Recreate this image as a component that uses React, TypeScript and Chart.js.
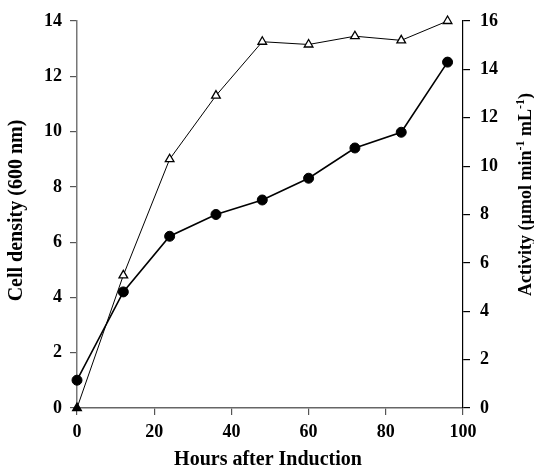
import React, { useEffect, useRef } from "react";
import { Chart, registerables } from "chart.js";

Chart.register(...registerables);

const hours = [0, 12, 24, 36, 48, 60, 72, 84, 96];
const cellDensity = [0, 4.8, 9.0, 11.3, 13.25, 13.15, 13.45, 13.3, 14.0];
const activity = [1.15, 4.8, 7.1, 8.0, 8.6, 9.5, 10.75, 11.4, 14.3];

const xTitle = "Hours after Induction";
const yLeftTitle = "Cell density (600 nm)";
const yRightParts: [string, boolean][] = [
  ["Activity (\u00b5mol min", false],
  ["-1", true],
  [" mL", false],
  ["-1", true],
  [")", false],
];
const FONT = "'Liberation Serif', 'Times New Roman', serif";

const titlesPlugin = {
  id: "titles",
  afterDraw(chart: any) {
    const { ctx, chartArea } = chart;
    const big = `bold 18px ${FONT}`;
    const small = `bold 12px ${FONT}`;
    const mid = (chartArea.top + chartArea.bottom) / 2;
    ctx.save();
    ctx.fillStyle = "#000";
    ctx.textBaseline = "middle";

    // x title
    ctx.font = `bold 20px ${FONT}`;
    ctx.textAlign = "center";
    ctx.fillText(xTitle, (chartArea.left + chartArea.right) / 2 - 2, 460);

    // left title
    ctx.save();
    ctx.translate(17, mid - 4);
    ctx.rotate(-Math.PI / 2);
    ctx.fillText(yLeftTitle, 0, 0);
    ctx.restore();

    // right title
    let total = 0;
    for (const [t, sup] of yRightParts) {
      ctx.font = sup ? small : big;
      total += ctx.measureText(t).width;
    }
    ctx.save();
    ctx.translate(526, mid - 20);
    ctx.rotate(-Math.PI / 2);
    ctx.textAlign = "left";
    let x = -total / 2;
    for (const [t, sup] of yRightParts) {
      ctx.font = sup ? small : big;
      ctx.fillText(t, x, sup ? -5 : 0);
      x += ctx.measureText(t).width;
    }
    ctx.restore();
    ctx.restore();
  },
};

export default function App() {
  const ref = useRef<HTMLCanvasElement>(null);
  useEffect(() => {
    if (!ref.current) return;
    const tickFont = { family: FONT, size: 18, weight: "bold" as const };
    const chart = new Chart(ref.current, {
      type: "line",
      data: {
        datasets: [
          {
            label: "Activity",
            data: hours.map((h, i) => ({ x: h, y: activity[i] })),
            yAxisID: "y1",
            borderColor: "#000",
            borderWidth: 1.6,
            backgroundColor: "#000",
            pointStyle: "circle",
            pointRadius: 5,
            pointBackgroundColor: "#000",
            pointBorderColor: "#000",
            pointBorderWidth: 1,
            tension: 0,
          },
          {
            label: "Cell density",
            data: hours.map((h, i) => ({ x: h, y: cellDensity[i] })),
            yAxisID: "y",
            borderColor: "#000",
            borderWidth: 1,
            backgroundColor: "#fff",
            pointStyle: "triangle",
            pointRadius: 5,
            pointBackgroundColor: hours.map((_, i) => (i === 0 ? "#000" : "#fff")),
            pointBorderColor: "#000",
            pointBorderWidth: 1.3,
            tension: 0,
          },
        ],
      },
      options: {
        animation: false,
        responsive: false,
        clip: false as any,
        layout: { padding: { top: 21, left: 0, right: 0, bottom: 0 } },
        plugins: { legend: { display: false }, tooltip: { enabled: false } },
        scales: {
          x: {
            type: "linear",
            position: "bottom",
            min: 0,
            max: 100,
            ticks: { stepSize: 20, font: tickFont, color: "#000", padding: 7, maxRotation: 0 },
            grid: { drawOnChartArea: false, tickLength: 7, color: "#555", lineWidth: 1.2 },
            border: { display: true, color: "#666", width: 1.5 },
            afterFit: (s: any) => { s.height = 61; },
          },
          y: {
            type: "linear",
            position: "left",
            min: 0,
            max: 14,
            ticks: { stepSize: 2, font: tickFont, color: "#000", padding: 8 },
            grid: { drawOnChartArea: false, tickLength: 7, color: "#555", lineWidth: 1.2 },
            border: { display: true, color: "#777", width: 1.5 },
            afterFit: (s: any) => { s.width = 77; },
          },
          y1: {
            type: "linear",
            position: "right",
            min: 0,
            max: 16,
            ticks: { stepSize: 2, font: tickFont, color: "#000", padding: 10 },
            grid: { drawOnChartArea: false, tickLength: 7, color: "#000", lineWidth: 1.2 },
            border: { display: true, color: "#000", width: 1.2 },
            afterFit: (s: any) => { s.width = 71; },
          },
        },
      },
      plugins: [titlesPlugin],
    });
    return () => chart.destroy();
  }, []);
  return (
    <div style={{ position: "absolute", left: 0, top: 0, width: 534, height: 469, background: "#fff" }}>
      <canvas ref={ref} width={534} height={469} style={{ display: "block" }} />
    </div>
  );
}
